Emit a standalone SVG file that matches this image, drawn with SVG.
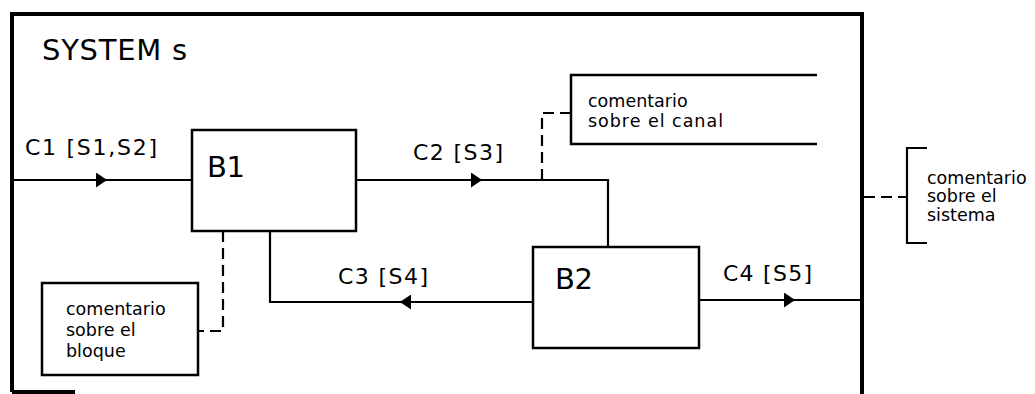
<svg xmlns="http://www.w3.org/2000/svg" width="1035" height="394" viewBox="0 0 1035 394">
<style>
.frame{fill:none;stroke:#000;stroke-width:4}
.box{fill:#fff;stroke:#000;stroke-width:2.5}
.line{fill:none;stroke:#000;stroke-width:2.2}
.dash{fill:none;stroke:#000;stroke-width:2.2;stroke-dasharray:11,6}
.big{font-family:"DejaVu Sans","Liberation Sans",sans-serif;font-size:29px;fill:#000}
.lbl{font-family:"DejaVu Sans","Liberation Sans",sans-serif;font-size:22px;fill:#000}
.cmt{font-family:"DejaVu Sans","Liberation Sans",sans-serif;font-size:17.5px;fill:#000}
</style>
<defs>
<marker id="arr" markerUnits="userSpaceOnUse" viewBox="0 0 11 15" refX="11" refY="7.5" markerWidth="11" markerHeight="15" orient="auto">
<path d="M0,0 L11,7.5 L0,15 z" fill="#000"/>
</marker>
</defs>
<rect width="1035" height="394" fill="#fff"/>
<g id="system">
<path class="frame" d="M12,392 L12,14 L862,14 L862,394"/>
<path class="frame" d="M12,392 L75,392"/>
<text class="big" x="42" y="60" textLength="145" lengthAdjust="spacing">SYSTEM s</text>
</g>
<g id="connectors">
<path class="line" d="M12,180 L192,180"/>
<path class="line" d="M96,180 L107,180" marker-end="url(#arr)"/>
<path class="line" d="M356,180 L608,180 L608,247"/>
<path class="line" d="M471,180 L482,180" marker-end="url(#arr)"/>
<path class="line" d="M533,302 L270,302 L270,231"/>
<path class="line" d="M411,302 L400,302" marker-end="url(#arr)"/>
<path class="line" d="M699,300 L862,300"/>
<path class="line" d="M784,300 L795,300" marker-end="url(#arr)"/>
<path class="dash" d="M542,180 L542,113 L571,113"/>
<path class="dash" d="M223,231 L223,331 L198,331"/>
<path class="dash" d="M864,197 L907,197"/>
</g>
<g id="labels">
<text class="lbl" x="25" y="155" textLength="132" lengthAdjust="spacing">C1 [S1,S2]</text>
<text class="lbl" x="413" y="160" textLength="90" lengthAdjust="spacing">C2 [S3]</text>
<text class="lbl" x="338" y="284" textLength="90" lengthAdjust="spacing">C3 [S4]</text>
<text class="lbl" x="723" y="281" textLength="89" lengthAdjust="spacing">C4 [S5]</text>
</g>
<g id="B1">
<rect class="box" x="192" y="130" width="164" height="101"/>
<text class="big" x="207" y="177" textLength="38" lengthAdjust="spacing">B1</text>
</g>
<g id="B2">
<rect class="box" x="533" y="247" width="166" height="101"/>
<text class="big" x="555" y="289" textLength="38" lengthAdjust="spacing">B2</text>
</g>
<g id="comment-channel">
<path class="box" d="M817,75 L571,75 L571,144 L817,144"/>
<text class="cmt" x="588" y="107">comentario</text>
<text class="cmt" x="588" y="127" textLength="135" lengthAdjust="spacing">sobre el canal</text>
</g>
<g id="comment-block">
<rect class="box" x="42" y="283" width="156" height="92"/>
<text class="cmt" x="66" y="315">comentario</text>
<text class="cmt" x="66" y="336">sobre el</text>
<text class="cmt" x="66" y="357">bloque</text>
</g>
<g id="comment-system">
<path class="line" d="M927,148 L907,148 L907,243 L927,243"/>
<text class="cmt" x="927" y="184">comentario</text>
<text class="cmt" x="927" y="202">sobre el</text>
<text class="cmt" x="927" y="221">sistema</text>
</g>
</svg>
